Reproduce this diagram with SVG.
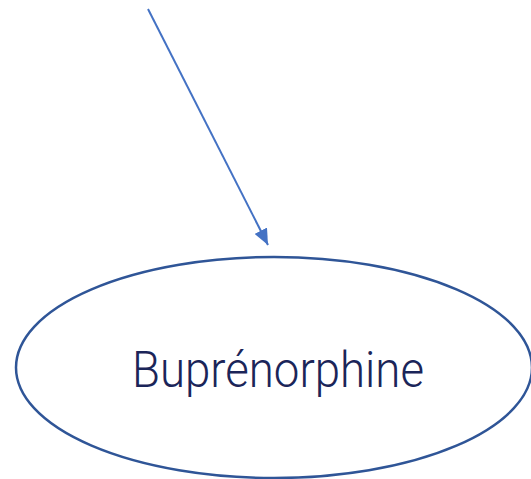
<svg xmlns="http://www.w3.org/2000/svg" width="531" height="479" viewBox="0 0 531 479">
<style>
.conn{stroke:#4472c4;stroke-width:2;fill:none}
.node{fill:#ffffff;stroke:#2f5597;stroke-width:2.5}
.label{font-family:"Roboto","DejaVu Sans",sans-serif;font-size:50px;font-weight:300;fill:#1b2559}
</style>
<defs>
<marker id="ah" markerUnits="userSpaceOnUse" markerWidth="16" markerHeight="14" viewBox="0 0 16 14" refX="16" refY="7" orient="auto">
<path d="M0,0 L16,7 L0,14 Z" fill="#4472c4"/>
</marker>
</defs>
<rect width="531" height="479" fill="#ffffff"/>
<g id="connectors">
<line class="conn" x1="148" y1="9" x2="268" y2="245" marker-end="url(#ah)"/>
</g>
<g id="node-buprenorphine">
<ellipse class="node" cx="274" cy="367.5" rx="258" ry="110.5"/>
<text class="label" x="278" y="387" text-anchor="middle" textLength="292" lengthAdjust="spacingAndGlyphs">Buprénorphine</text>
</g>
</svg>
